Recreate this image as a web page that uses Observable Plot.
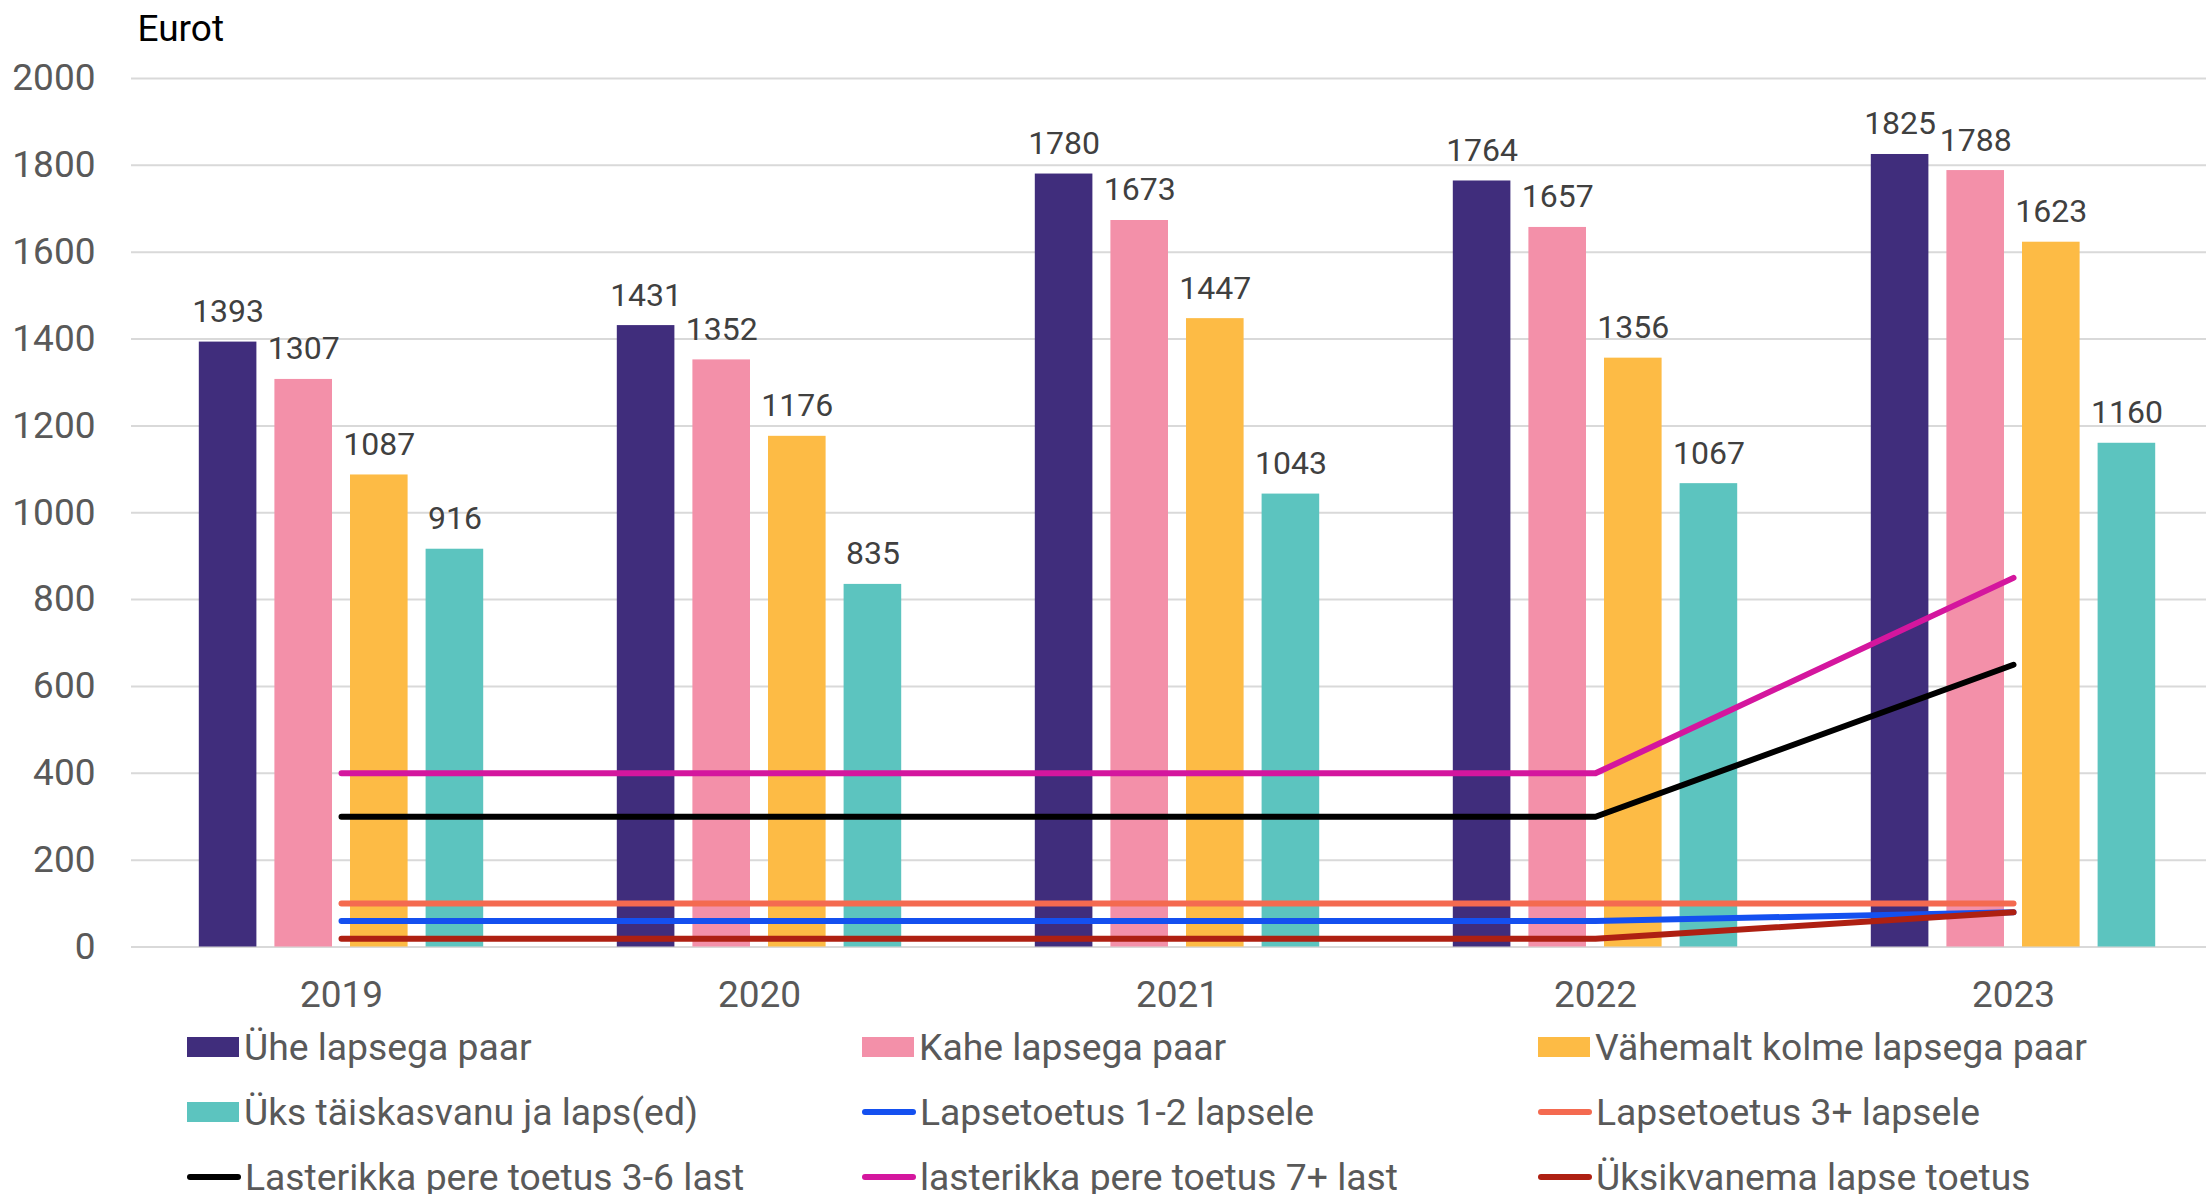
<!DOCTYPE html>
<html>
<head>
<meta charset="utf-8">
<script src="https://cdn.jsdelivr.net/npm/d3@7"></script>
<script src="https://cdn.jsdelivr.net/npm/@observablehq/plot@0.6"></script>
<style>
  html, body { margin: 0; padding: 0; background: #fff; overflow: hidden; }
  body { width: 2206px; height: 1194px; font-family: Roboto, sans-serif; }
  #legend { position: relative; display: grid; grid-template-columns: 675px 676px 675px;
            padding-left: 187px; margin-top: -5px; }
  .item { display: flex; align-items: center; height: 64.7px; color: #595959; font-size: 37.3px; white-space: nowrap; }
  .sw-rect { width: 52px; height: 20px; margin-right: 5px; flex: none; }
  .sw-line { width: 54px; height: 6px; border-radius: 3px; margin-right: 4px; flex: none; }
</style>
</head>
<body>
<div id="chart"></div>
<div id="legend"></div>
<script>
const years = ["2019", "2020", "2021", "2022", "2023"];
const yTicks = [0, 200, 400, 600, 800, 1000, 1200, 1400, 1600, 1800, 2000];

const barSeries = ["Ühe lapsega paar", "Kahe lapsega paar", "Vähemalt kolme lapsega paar", "Üks täiskasvanu ja laps(ed)"];
const barColors = ["#402D7C", "#F390A9", "#FDBB45", "#5CC4BF"];
const uheLapsegaPaar = [1393, 1431, 1780, 1764, 1825];
const kaheLapsegaPaar = [1307, 1352, 1673, 1657, 1788];
const vahemaltKolme = [1087, 1176, 1447, 1356, 1623];
const uksTaiskasvanu = [916, 835, 1043, 1067, 1160];

const lineSeries = ["Lapsetoetus 1-2 lapsele", "Lapsetoetus 3+ lapsele", "Lasterikka pere toetus 3-6 last", "lasterikka pere toetus 7+ last", "Üksikvanema lapse toetus"];
const lineColors = ["#1450F0", "#F46A50", "#000000", "#D4169E", "#AE2012"];
const lapsetoetus12 = [60, 60, 60, 60, 80];
const lapsetoetus3 = [100, 100, 100, 100, 100];
const lasterikka36 = [300, 300, 300, 300, 650];
const lasterikka7 = [400, 400, 400, 400, 850];
const uksikvanema = [19, 19, 19, 19, 80];

const barValues = [uheLapsegaPaar, kaheLapsegaPaar, vahemaltKolme, uksTaiskasvanu];
const lineValues = [lapsetoetus12, lapsetoetus3, lasterikka36, lasterikka7, uksikvanema];

const barData = barSeries.map((s, i) => years.map((y, j) => ({series: s, year: y, value: barValues[i][j]})));
const lineData = lineSeries.map((s, i) => years.map((y, j) => ({series: s, year: y, value: lineValues[i][j]})));

const xRange = [130.5, 2222.5];
const bandwidth = (xRange[1] - xRange[0]) / years.length;
const barWidth = 58;
const barStep = 75.6;
const inset = (bandwidth - barWidth) / 2;

const marks = [
  Plot.ruleY(yTicks, {stroke: "#d9d9d9", strokeWidth: 2}),
  ...barData.map((d, i) => Plot.barY(d, {x: "year", y: "value", fill: barColors[i], insetLeft: inset, insetRight: inset, dx: (i - 1.5) * barStep})),
  ...barData.map((d, i) => Plot.text(d, {x: "year", y: "value", text: (r) => String(r.value), dx: (i - 1.5) * barStep, dy: -20, lineAnchor: "bottom", fontSize: 32, fill: "#404040"})),
  ...lineData.map((d, i) => Plot.line(d, {x: "year", y: "value", stroke: lineColors[i], strokeWidth: 6, strokeLinecap: "round", strokeLinejoin: "round"})),
  Plot.text(["Eurot"], {frameAnchor: "top-left", text: (d) => d, dx: 6, dy: -38, textAnchor: "start", lineAnchor: "bottom", fontSize: 37, fill: "#000"}),
  Plot.axisX({tickSize: 0, tickPadding: 34, fontSize: 37, fill: "#595959", label: null}),
  Plot.axisY({ticks: yTicks, tickSize: 0, tickPadding: 36, tickFormat: (d) => String(d), fontSize: 37, fill: "#595959", label: null})
];

const chart = Plot.plot({
  width: 2206,
  height: 1020,
  marginLeft: 131,
  marginRight: 0,
  marginTop: 78,
  marginBottom: 73.5,
  style: {fontFamily: "Roboto, sans-serif", background: "#fff", overflow: "visible"},
  x: {domain: years, range: xRange, padding: 0, axis: null},
  y: {domain: [0, 2000], axis: null},
  marks
});
document.getElementById("chart").appendChild(chart);

const legend = document.getElementById("legend");
const items = [
  ...barSeries.map((s, i) => ({label: s, color: barColors[i], type: "rect"})),
  ...lineSeries.map((s, i) => ({label: s, color: lineColors[i], type: "line"}))
];
for (const it of items) {
  const div = document.createElement("div");
  div.className = "item";
  const sw = document.createElement("span");
  sw.className = it.type === "rect" ? "sw-rect" : "sw-line";
  sw.style.background = it.color;
  const tx = document.createElement("span");
  tx.textContent = it.label;
  div.appendChild(sw);
  div.appendChild(tx);
  legend.appendChild(div);
}
</script>
</body>
</html>
